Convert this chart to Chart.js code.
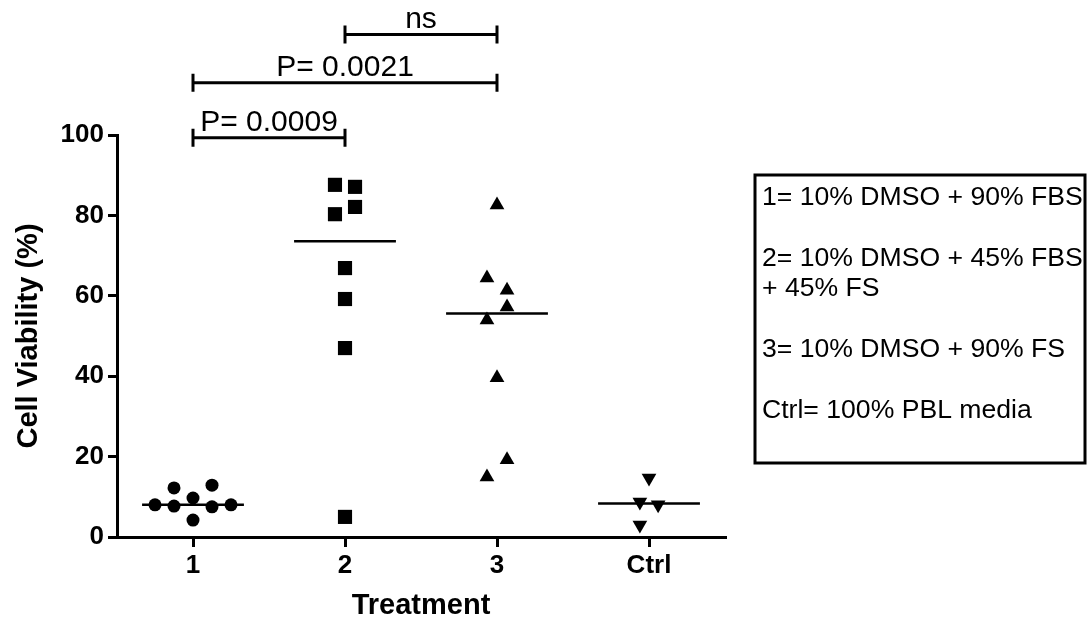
<!DOCTYPE html>
<html>
<head>
<meta charset="utf-8">
<script src="https://cdn.jsdelivr.net/npm/chart.js@4.4.1/dist/chart.umd.min.js"></script>
<style>
  html, body { margin: 0; padding: 0; background: #fff; }
  #wrap { width: 1092px; height: 620px; position: relative; }
</style>
</head>
<body>
<div id="wrap"><canvas id="chart"></canvas></div>
<script>
const categories = ['1', '2', '3', 'Ctrl'];
const yTicks = [0, 20, 40, 60, 80, 100];

// cell viability (%) for each treatment, plus the sideways spread of the dots
const group1Values = [8.0, 7.7, 12.2, 9.7, 4.2, 7.5, 12.9, 8.0];
const group1Spread = [-0.25, -0.125, -0.125, 0, 0, 0.125, 0.125, 0.25];
const group2Values = [87.6, 87.1, 80.3, 82.1, 66.9, 59.2, 47.0, 5.0];
const group2Spread = [-0.066, 0.066, -0.066, 0.066, 0, 0, 0, 0];
const group3Values = [82.6, 64.4, 61.4, 57.2, 54.0, 39.6, 19.2, 14.9];
const group3Spread = [0, -0.066, 0.066, 0.066, -0.066, 0, 0.066, -0.066];
const ctrlValues = [14.7, 8.7, 8.0, 3.0];
const ctrlSpread = [0, -0.06, 0.06, -0.06];

// significance brackets (group numbers, height in y units)
const brackets = [
    { from: 1, to: 2, level: 99.3, label: 'P= 0.0009' },
    { from: 1, to: 3, level: 113, label: 'P= 0.0021' },
    { from: 2, to: 3, level: 125, label: 'ns' },
];

const legendLines = [
    ['1= 10% DMSO + 90% FBS'],
    ['2= 10% DMSO + 45% FBS', '+ 45% FS'],
    ['3= 10% DMSO + 90% FS'],
    ['Ctrl= 100% PBL media'],
];

const FONT = "'Liberation Sans', Arial, sans-serif";

const median = (arr) => {
    const s = [...arr].sort((a, b) => a - b);
    const m = s.length / 2;
    return s.length % 2 ? s[Math.floor(m)] : (s[m - 1] + s[m]) / 2;
};

const groups = [
    { values: group1Values, spread: group1Spread, style: 'circle', radius: 6.5, rotation: 0 },
    { values: group2Values, spread: group2Spread, style: 'rect', radius: 10, rotation: 0 },
    { values: group3Values, spread: group3Spread, style: 'triangle', radius: 8.5, rotation: 0 },
    { values: ctrlValues, spread: ctrlSpread, style: 'triangle', radius: 8.5, rotation: 180 },
];

const pointSets = groups.map((g, gi) => ({
    data: g.values.map((v, i) => ({ x: gi + 1 + g.spread[i], y: v })),
    pointStyle: g.style,
    pointRadius: g.radius,
    pointRotation: g.rotation,
    pointBackgroundColor: '#000',
    pointBorderWidth: 0,
    showLine: false,
}));

const medianSets = groups.map((g, gi) => {
    const med = median(g.values);
    return {
        data: [{ x: gi + 1 - 0.335, y: med }, { x: gi + 1 + 0.335, y: med }],
        showLine: true,
        borderColor: '#000',
        borderWidth: 2.5,
        pointRadius: 0,
    };
});

const bracketPlugin = {
    id: 'brackets',
    afterDraw(chart) {
        const { ctx, scales: { x, y } } = chart;
        ctx.save();
        ctx.strokeStyle = '#000';
        ctx.fillStyle = '#000';
        ctx.lineWidth = 3;
        ctx.font = '30px ' + FONT;
        ctx.textAlign = 'center';
        ctx.textBaseline = 'alphabetic';
        brackets.forEach(b => {
            const x1 = x.getPixelForValue(b.from);
            const x2 = x.getPixelForValue(b.to);
            const yy = y.getPixelForValue(b.level);
            ctx.beginPath();
            ctx.moveTo(x1, yy); ctx.lineTo(x2, yy);
            ctx.moveTo(x1, yy - 9); ctx.lineTo(x1, yy + 9);
            ctx.moveTo(x2, yy - 9); ctx.lineTo(x2, yy + 9);
            ctx.stroke();
            ctx.fillText(b.label, (x1 + x2) / 2, yy - 7);
        });
        ctx.restore();
    }
};

const legendBoxPlugin = {
    id: 'legendBox',
    afterDraw(chart) {
        const ctx = chart.ctx;
        ctx.save();
        ctx.strokeStyle = '#000';
        ctx.lineWidth = 3;
        ctx.strokeRect(755, 175, 330, 288);
        ctx.fillStyle = '#000';
        ctx.font = '26.6px ' + FONT;
        ctx.textAlign = 'left';
        ctx.textBaseline = 'alphabetic';
        let ty = 205;
        legendLines.forEach(para => {
            para.forEach(line => {
                ctx.fillText(line, 762, ty);
                ty += 30;
            });
            ty += 31;
        });
        ctx.restore();
    }
};

new Chart(document.getElementById('chart'), {
    type: 'scatter',
    data: { datasets: [...pointSets, ...medianSets] },
    plugins: [bracketPlugin, legendBoxPlugin],
    options: {
        responsive: true,
        maintainAspectRatio: false,
        animation: false,
        events: [],
        layout: { padding: { top: 135, right: 367, bottom: 0, left: 0 } },
        plugins: {
            legend: { display: false },
            tooltip: { enabled: false },
        },
        scales: {
            x: {
                type: 'linear',
                min: 0.5,
                max: 4.5,
                afterBuildTicks: (s) => { s.ticks = categories.map((c, i) => ({ value: i + 1 })); },
                afterFit: (s) => { s.height = 83; },
                ticks: {
                    callback: (v) => categories[v - 1],
                    color: '#000',
                    font: { family: FONT, size: 26, weight: 'bold' },
                    padding: 3,
                    autoSkip: false,
                    maxRotation: 0,
                },
                grid: { drawOnChartArea: false, drawTicks: true, tickLength: 10, color: '#000', lineWidth: 3 },
                border: { display: true, color: '#000', width: 3 },
                title: {
                    display: true,
                    text: 'Treatment',
                    color: '#000',
                    font: { family: FONT, size: 29, weight: 'bold', lineHeight: 1 },
                    padding: { top: 0, bottom: 0 },
                },
            },
            y: {
                min: 0,
                max: 100,
                afterBuildTicks: (s) => { s.ticks = yTicks.map(v => ({ value: v })); },
                afterFit: (s) => { s.width = 117; },
                ticks: {
                    color: '#000',
                    font: { family: FONT, size: 26, weight: 'bold' },
                    padding: 4,
                },
                grid: { drawOnChartArea: false, drawTicks: true, tickLength: 9, color: '#000', lineWidth: 3 },
                border: { display: true, color: '#000', width: 3 },
                title: {
                    display: true,
                    text: 'Cell Viability (%)',
                    color: '#000',
                    font: { family: FONT, size: 29, weight: 'bold', lineHeight: 1 },
                    padding: { top: 14.5, bottom: 0 },
                },
            },
        },
    },
});
</script>
</body>
</html>
